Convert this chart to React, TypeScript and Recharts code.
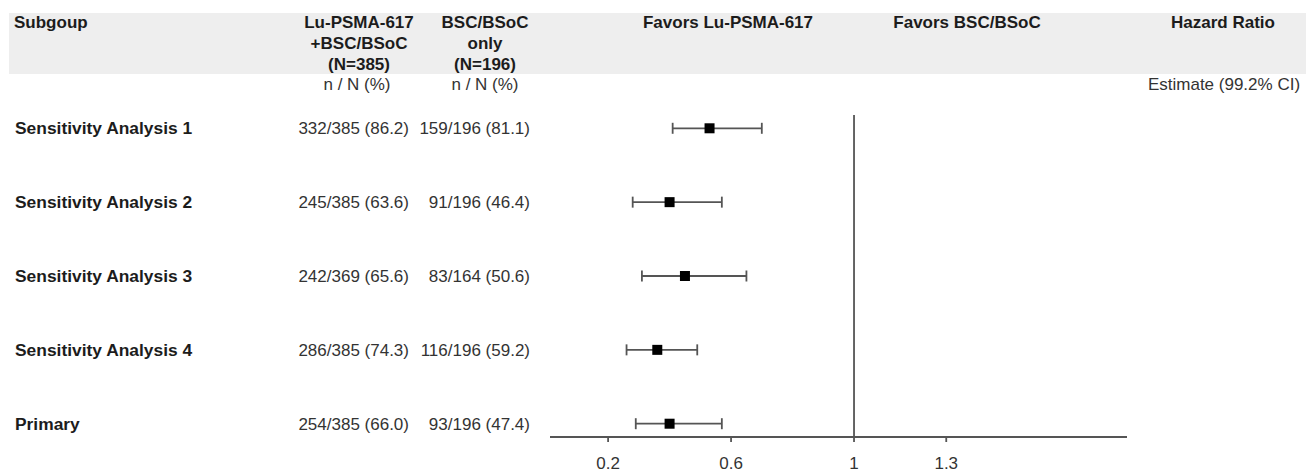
import React from 'react';
import { ScatterChart, Scatter, XAxis, YAxis, ErrorBar, ReferenceLine } from 'recharts';

const subgroups = [
  'Sensitivity Analysis 1',
  'Sensitivity Analysis 2',
  'Sensitivity Analysis 3',
  'Sensitivity Analysis 4',
  'Primary',
];
const luCounts = ['332/385 (86.2)', '245/385 (63.6)', '242/369 (65.6)', '286/385 (74.3)', '254/385 (66.0)'];
const bscCounts = ['159/196 (81.1)', '91/196 (46.4)', '83/164 (50.6)', '116/196 (59.2)', '93/196 (47.4)'];
const hrEstimate = [0.53, 0.4, 0.45, 0.36, 0.4];
const hrLower = [0.41, 0.28, 0.31, 0.26, 0.29];
const hrUpper = [0.7, 0.57, 0.65, 0.49, 0.57];
const xTicks = [0.2, 0.6, 1, 1.3];

const FONT = '"Liberation Sans", Arial, sans-serif';
const DARK = '#1c1c1c';
const GREY = '#333';
const LINE = '#555';

const rowIdx = subgroups.map((_, i) => i);

const plotData = subgroups.map((name, i) => ({
  name,
  x: hrEstimate[i],
  y: i,
  errorX: [hrEstimate[i] - hrLower[i], hrUpper[i] - hrEstimate[i]],
}));

function HeadText({ x, y, children, bold = true, align = 'center' }: any) {
  const tx = align === 'center' ? '-50%' : align === 'right' ? '-100%' : '0';
  return (
    <div
      style={{
        position: 'absolute',
        left: x,
        top: y,
        transform: `translate(${tx}, -50%)`,
        fontFamily: FONT,
        fontSize: 17,
        lineHeight: '20px',
        fontWeight: bold ? 700 : 400,
        color: bold ? DARK : GREY,
        whiteSpace: 'nowrap',
      }}
    >
      {children}
    </div>
  );
}

function LeftTick(props: any) {
  const i = props.payload.value;
  return (
    <g fontFamily={FONT} fontSize={17}>
      <text x={15} y={props.y} dy="0.355em" fontWeight={700} fontSize={17.4} fill={DARK}>
        {subgroups[i]}
      </text>
      <text x={409} y={props.y} dy="0.355em" textAnchor="end" fill={GREY}>
        {luCounts[i]}
      </text>
      <text x={530} y={props.y} dy="0.355em" textAnchor="end" fill={GREY}>
        {bscCounts[i]}
      </text>
    </g>
  );
}

function RightTick(props: any) {
  const i = props.payload.value;
  const label = `${hrEstimate[i].toFixed(2)} (${hrLower[i].toFixed(2)}, ${hrUpper[i].toFixed(2)})`;
  return (
    <text x={1227} y={props.y} dy="0.355em" textAnchor="middle" fontFamily={FONT} fontSize={17} fill={GREY}>
      {label}
    </text>
  );
}

const Square = (p: any) => <rect x={p.cx - 5} y={p.cy - 5} width={10} height={10} fill="#000" />;

export default function App() {
  return (
    <div style={{ position: 'absolute', left: 0, top: 0, width: 1306, height: 472, background: '#fff' }}>
      {/* header band */}
      <div style={{ position: 'absolute', left: 9, top: 13, width: 1297, height: 61, background: '#eeeeee' }} />
      <HeadText x={14} y={23} align="left">Subgoup</HeadText>
      <HeadText x={359} y={23}>Lu-PSMA-617</HeadText>
      <HeadText x={359} y={44}>+BSC/BSoC</HeadText>
      <HeadText x={359} y={65}>(N=385)</HeadText>
      <HeadText x={485} y={23}>BSC/BSoC</HeadText>
      <HeadText x={485} y={44}>only</HeadText>
      <HeadText x={485} y={65}>(N=196)</HeadText>
      <HeadText x={728} y={23}>Favors Lu-PSMA-617</HeadText>
      <HeadText x={967} y={23}>Favors BSC/BSoC</HeadText>
      <HeadText x={1223} y={23}>Hazard Ratio</HeadText>
      <HeadText x={357} y={85} bold={false}>n / N (%)</HeadText>
      <HeadText x={485} y={85} bold={false}>n / N (%)</HeadText>
      <HeadText x={1224} y={85} bold={false}>Estimate (99.2% CI)</HeadText>

      <div style={{ position: 'absolute', left: 0, top: 0 }}>
        <ScatterChart width={1306} height={472} margin={{ top: 115, right: 0, bottom: 0, left: 0 }}>
          <XAxis
            type="number"
            dataKey="x"
            domain={[0.011, 1.888]}
            allowDataOverflow
            ticks={xTicks}
            tickFormatter={(v) => String(v)}
            height={35}
            tickSize={5}
            tickMargin={15}
            axisLine={{ stroke: LINE, strokeWidth: 1.8 }}
            tickLine={{ stroke: LINE, strokeWidth: 1.8 }}
            tick={{ fill: GREY, fontSize: 17, fontFamily: FONT }}
          />
          <YAxis
            yAxisId="left"
            type="number"
            dataKey="y"
            domain={[-0.18, 4.18]}
            reversed
            ticks={rowIdx}
            interval={0}
            width={550}
            axisLine={false}
            tickLine={false}
            tick={<LeftTick />}
          />
          <YAxis
            yAxisId="right"
            orientation="right"
            type="number"
            dataKey="y"
            domain={[-0.18, 4.18]}
            reversed
            ticks={rowIdx}
            interval={0}
            width={179}
            axisLine={false}
            tickLine={false}
            tick={<RightTick />}
          />
          <ReferenceLine yAxisId="left" x={1} stroke={LINE} strokeWidth={1.8} />
          <Scatter yAxisId="left" data={plotData} shape={Square} isAnimationActive={false}>
            <ErrorBar dataKey="errorX" direction="x" width={5.5} stroke={LINE} strokeWidth={1.8} />
          </Scatter>
        </ScatterChart>
      </div>
    </div>
  );
}
